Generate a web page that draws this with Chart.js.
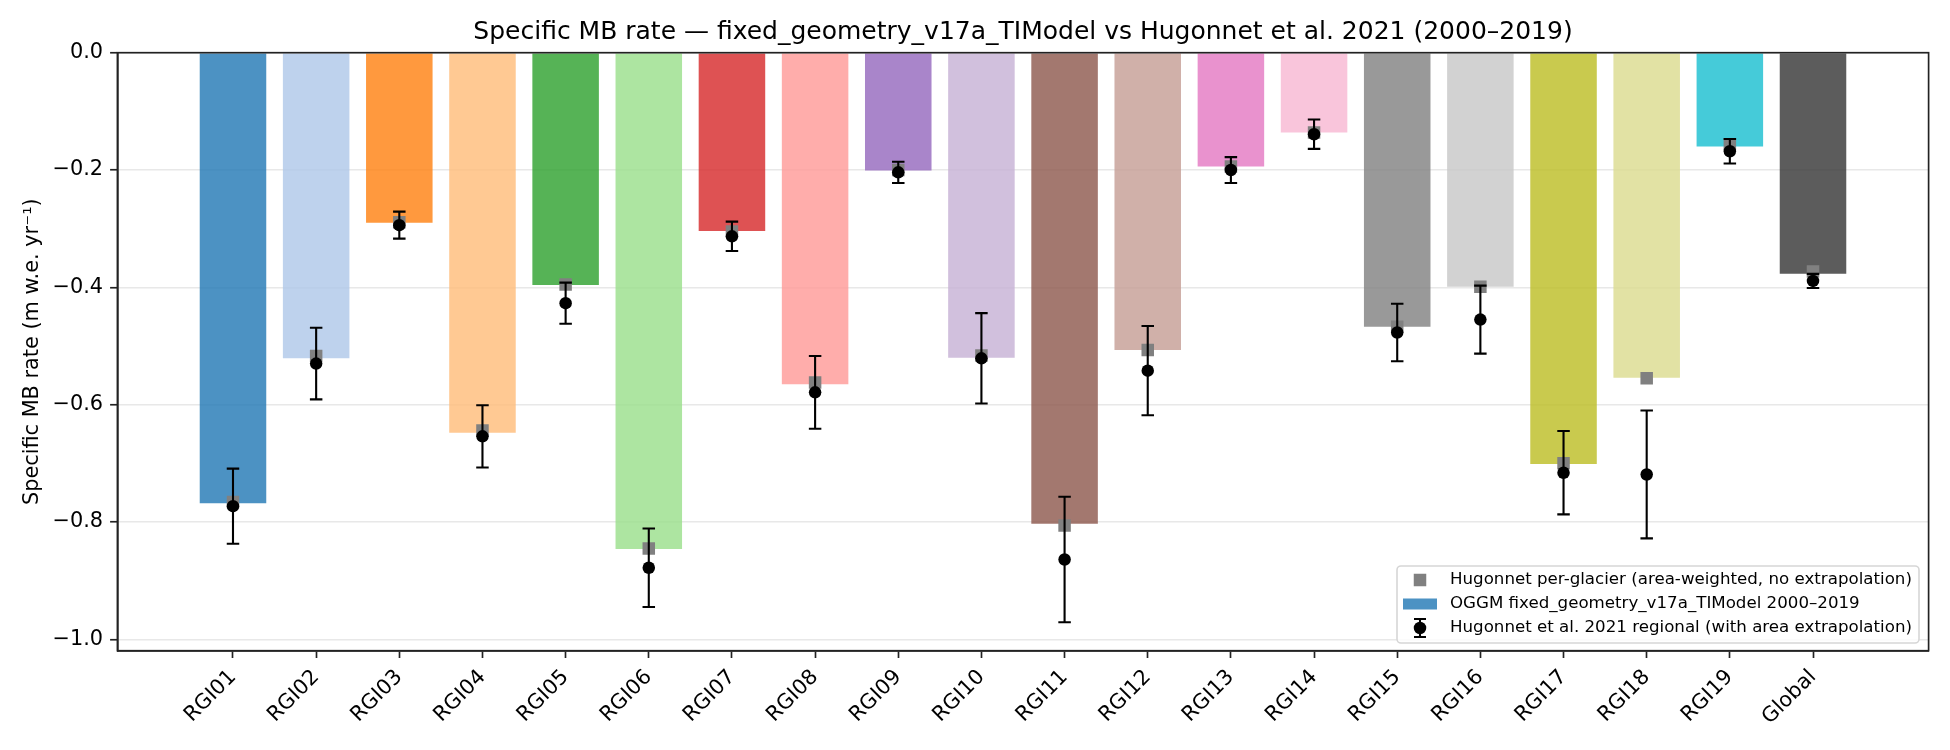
<!DOCTYPE html>
<html lang="en">
<head>
  <meta charset="UTF-8">
  <title>Specific MB rate</title>
  <script src="https://cdn.jsdelivr.net/npm/chart.js"></script>
  <style>
    html, body { margin: 0; padding: 0; background: #fff; }
    #wrap { width: 1950px; height: 750px; position: relative; }
  </style>
</head>
<body>
  <div id="wrap"><canvas id="grafico"></canvas></div>
<script>
  // regions on the x axis
  const regions = ['RGI01', 'RGI02', 'RGI03', 'RGI04', 'RGI05', 'RGI06', 'RGI07', 'RGI08', 'RGI09', 'RGI10',
    'RGI11', 'RGI12', 'RGI13', 'RGI14', 'RGI15', 'RGI16', 'RGI17', 'RGI18', 'RGI19', 'Global'];

  // OGGM fixed_geometry_v17a_TIModel 2000-2019 (bars)
  const oggmMb = [-0.768, -0.521, -0.290, -0.648, -0.396, -0.846, -0.304, -0.565, -0.201, -0.520,
    -0.803, -0.507, -0.194, -0.136, -0.467, -0.399, -0.701, -0.554, -0.160, -0.377];

  // Hugonnet per-glacier, area-weighted (grey squares)
  const perGlacierMb = [-0.766, -0.517, -0.289, -0.644, -0.395, -0.845, -0.305, -0.562, -0.200, -0.516,
    -0.806, -0.507, -0.194, -0.136, -0.467, -0.399, -0.700, -0.555, -0.156, -0.373];

  // Hugonnet et al. 2021 regional values and their uncertainty
  const regionalMb = [-0.773, -0.530, -0.294, -0.654, -0.427, -0.878, -0.313, -0.579, -0.204, -0.521,
    -0.864, -0.542, -0.200, -0.139, -0.477, -0.455, -0.716, -0.719, -0.168, -0.389];
  const regionalErr = [0.064, 0.061, 0.023, 0.053, 0.035, 0.067, 0.025, 0.062, 0.018, 0.077,
    0.107, 0.076, 0.022, 0.025, 0.049, 0.058, 0.071, 0.109, 0.021, 0.012];

  // y tick labels
  const yTicks = [0, -0.2, -0.4, -0.6, -0.8, -1.0];

  const FONT = 'DejaVu Sans';
  const labelPerGlacier = 'Hugonnet per-glacier (area-weighted, no extrapolation)';
  const labelOggm = 'OGGM fixed_geometry_v17a_TIModel 2000\u20132019';
  const labelRegional = 'Hugonnet et al. 2021 regional (with area extrapolation)';

  // tab20 + dark grey for the global bar
  const palette = ['#1f77b4', '#aec7e8', '#ff7f0e', '#ffbb78', '#2ca02c', '#98df8a', '#d62728', '#ff9896',
    '#9467bd', '#c5b0d5', '#8c564b', '#c49c94', '#e377c2', '#f7b6d2', '#7f7f7f', '#c7c7c7',
    '#bcbd22', '#dbdb8d', '#17becf', '#333333'];

  function rgba(hex, a) {
    const n = parseInt(hex.slice(1), 16);
    return `rgba(${(n >> 16) & 255}, ${(n >> 8) & 255}, ${n & 255}, ${a})`;
  }

  function fmtTick(v) {
    return (v < 0 ? '\u2212' : '') + Math.abs(v).toFixed(1);
  }

  // error bars, drawn just after the squares and before the black dots
  const errorBars = {
    id: 'errorBars',
    afterDatasetDraw(chart, args) {
      if (args.index !== 1) return;
      const { ctx, scales: { x, y } } = chart;
      ctx.save();
      ctx.strokeStyle = '#000';
      ctx.lineWidth = 2.1;
      regionalMb.forEach((v, i) => {
        const px = x.getPixelForValue(i);
        const top = y.getPixelForValue(v + regionalErr[i]);
        const bot = y.getPixelForValue(v - regionalErr[i]);
        ctx.beginPath();
        ctx.moveTo(px, top); ctx.lineTo(px, bot);
        ctx.moveTo(px - 6.25, top); ctx.lineTo(px + 6.25, top);
        ctx.moveTo(px - 6.25, bot); ctx.lineTo(px + 6.25, bot);
        ctx.stroke();
      });
      ctx.restore();
    }
  };

  // box around the plot area
  const frame = {
    id: 'frame',
    afterDraw(chart) {
      const { ctx, chartArea: a } = chart;
      ctx.save();
      ctx.strokeStyle = '#222';
      ctx.lineWidth = 1.67;
      ctx.strokeRect(a.left, a.top, a.right - a.left, a.bottom - a.top);
      ctx.restore();
    }
  };

  // legend in the lower right corner of the plot
  const legendBox = {
    id: 'legendBox',
    afterDraw(chart) {
      const { ctx, chartArea: a } = chart;
      const w = 522, h = 77;
      const left = a.right - 9.6 - w;
      const top = a.bottom - 7.7 - h;
      ctx.save();
      ctx.beginPath();
      ctx.roundRect(left, top, w, h, 4);
      ctx.fillStyle = 'rgba(255,255,255,0.8)';
      ctx.fill();
      ctx.strokeStyle = '#d6d6d6';
      ctx.lineWidth = 1.6;
      ctx.stroke();

      const hx = left + 23;
      const rows = [top + 14, top + 38, top + 62];
      // grey square
      ctx.fillStyle = '#808080';
      ctx.fillRect(hx - 6.25, rows[0] - 6.25, 12.5, 12.5);
      // blue patch
      ctx.fillStyle = rgba(palette[0], 0.8);
      ctx.fillRect(hx - 17, rows[1] - 5.5, 34, 11);
      // errorbar + dot
      ctx.strokeStyle = '#000';
      ctx.lineWidth = 2.1;
      ctx.beginPath();
      ctx.moveTo(hx, rows[2] - 9); ctx.lineTo(hx, rows[2] + 9);
      ctx.moveTo(hx - 6, rows[2] - 9); ctx.lineTo(hx + 6, rows[2] - 9);
      ctx.moveTo(hx - 6, rows[2] + 9); ctx.lineTo(hx + 6, rows[2] + 9);
      ctx.stroke();
      ctx.fillStyle = '#000';
      ctx.beginPath();
      ctx.arc(hx, rows[2], 6.25, 0, Math.PI * 2);
      ctx.fill();

      ctx.font = `16.67px "${FONT}"`;
      ctx.textBaseline = 'middle';
      ctx.textAlign = 'left';
      ctx.fillStyle = '#000';
      [labelPerGlacier, labelOggm, labelRegional].forEach((t, k) => ctx.fillText(t, left + 53, rows[k]));
      ctx.restore();
    }
  };

  const ctx = document.getElementById('grafico');

  new Chart(ctx, {
    type: 'bar',
    data: {
      datasets: [{
        type: 'bar',
        label: labelOggm,
        data: regions.map((r, i) => ({ x: i, y: oggmMb[i] })),
        backgroundColor: palette.map(c => rgba(c, 0.8)),
        borderWidth: 0,
        barPercentage: 0.8,
        categoryPercentage: 1,
        order: 3
      }, {
        type: 'scatter',
        label: labelPerGlacier,
        data: regions.map((r, i) => ({ x: i, y: perGlacierMb[i] })),
        pointStyle: 'rect',
        pointRadius: 8.84,
        backgroundColor: '#808080',
        borderWidth: 0,
        order: 2
      }, {
        type: 'scatter',
        label: labelRegional,
        data: regions.map((r, i) => ({ x: i, y: regionalMb[i] })),
        pointStyle: 'circle',
        pointRadius: 6.25,
        backgroundColor: '#000',
        borderWidth: 0,
        order: 1
      }]
    },
    options: {
      responsive: true,
      maintainAspectRatio: false,
      animation: false,
      layout: { padding: { left: 0, right: 21.4, top: 0, bottom: 0 } },
      plugins: {
        legend: { display: false },
        tooltip: { enabled: false },
        title: {
          display: true,
          text: 'Specific MB rate \u2014 fixed_geometry_v17a_TIModel vs Hugonnet et al. 2021 (2000\u20132019)',
          fullSize: false,
          color: '#000',
          font: { family: FONT, size: 25, weight: 'normal', lineHeight: 1.2 },
          padding: { top: 17.8, bottom: 4.9 }
        }
      },
      scales: {
        x: {
          type: 'linear',
          offset: false,
          min: -1.39,
          max: 20.39,
          afterBuildTicks: s => { s.ticks = regions.map((r, i) => ({ value: i })); },
          afterFit: s => { s.height = 99.3; },
          ticks: {
            callback: v => regions[v],
            autoSkip: false,
            minRotation: 45,
            maxRotation: 45,
            padding: 7,
            color: '#000',
            font: { family: FONT, size: 20.83 }
          },
          grid: { offset: false, drawOnChartArea: false, tickLength: 7.3, tickColor: '#222', tickWidth: 1.67 },
          border: { color: '#222', width: 1.67 }
        },
        y: {
          min: -1.0194,
          max: 0,
          afterBuildTicks: s => { s.ticks = yTicks.map(v => ({ value: v })); },
          afterFit: s => { s.width = 117.4; },
          ticks: {
            callback: v => fmtTick(v),
            padding: 7,
            color: '#000',
            font: { family: FONT, size: 20.83 }
          },
          grid: { color: '#e8e8e8', lineWidth: 1.5, tickLength: 7.3, tickColor: '#222', tickWidth: 1.67 },
          border: { color: '#222', width: 1.67 },
          title: {
            display: true,
            text: 'Specific MB rate (m w.e. yr\u207b\u00b9)',
            color: '#000',
            font: { family: FONT, size: 20.83 },
            padding: { top: 20.5, bottom: 0 }
          }
        }
      }
    },
    plugins: [errorBars, frame, legendBox]
  });
</script>
</body>
</html>
